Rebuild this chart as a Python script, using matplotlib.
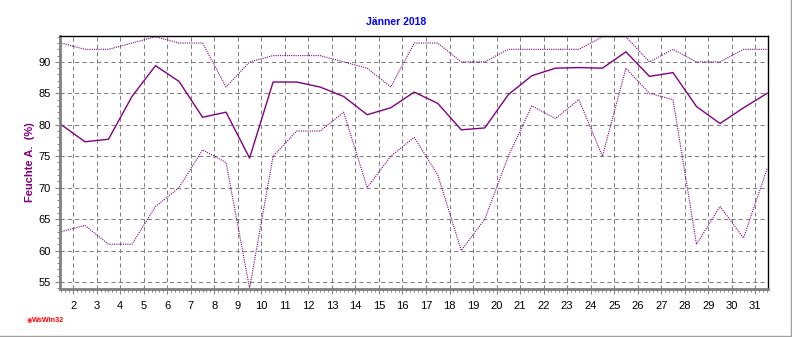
import numpy as np
import matplotlib
matplotlib.use("Agg")
import matplotlib.pyplot as plt
from matplotlib.ticker import MultipleLocator
from matplotlib.lines import Line2D

plt.rcParams['font.family'] = ['Liberation Sans', 'DejaVu Sans']

#%% Daten: relative Feuchte, Jänner 2018
tage = np.arange(1, 32) + 0.5

feuchte_mittel = [80.0, 77.3, 77.7, 84.5, 89.4, 86.9, 81.2, 82.0, 74.7, 86.8,
                  86.8, 86.0, 84.5, 81.6, 82.7, 85.2, 83.4, 79.2, 79.5, 84.8,
                  87.8, 89.0, 89.1, 89.0, 91.6, 87.7, 88.3, 82.9, 80.2, 82.7,
                  85.0]
feuchte_max = [93, 92, 92, 93, 94, 93, 93, 86, 90, 91,
               91, 91, 90, 89, 86, 93, 93, 90, 90, 92,
               92, 92, 92, 94, 94, 90, 92, 90, 90, 92,
               92]
feuchte_min = [63, 64, 61, 61, 67, 70, 76, 74, 54, 75,
               79, 79, 82, 70, 75, 78, 72, 60, 65, 75,
               83, 81, 84, 75, 89, 85, 84, 61, 67, 62,
               73]

x_ticks = list(range(2, 32))
y_ticks = [55, 60, 65, 70, 75, 80, 85, 90]

lila = '#800080'

#%% Plot
fig = plt.figure(figsize=(7.92, 3.37), dpi=100)
ax = fig.add_axes([60/792, 1-289/337, 708/792, 253/337])

ax.plot(tage, feuchte_max, color=lila, lw=0.8, linestyle=(0, (1, 1)))
ax.plot(tage, feuchte_min, color=lila, lw=0.8, linestyle=(0, (1, 1)))
ax.plot(tage, feuchte_mittel, color=lila, lw=1.0)

ax.set_xlim(1.44, 31.54)
ax.set_ylim(53.88, 94.12)

ax.set_xticks(x_ticks)
ax.set_yticks(y_ticks)
ax.xaxis.set_minor_locator(MultipleLocator(1/6))
ax.yaxis.set_minor_locator(MultipleLocator(1))
ax.tick_params(which='both', direction='out', color='#808080', labelsize=8)
ax.tick_params(which='major', length=3.5, width=0.8)
ax.tick_params(axis='x', which='major', pad=5)
ax.tick_params(axis='y', which='major', pad=3)
ax.tick_params(which='minor', length=2, width=0.7)

ax.grid(which='major', color='#808080', linestyle=(0, (4, 3)), linewidth=0.75)

for s in ['left', 'bottom']:
    ax.spines[s].set_color('#808080')
    ax.spines[s].set_linewidth(2)
for s in ['top', 'right']:
    ax.spines[s].set_color('black')
    ax.spines[s].set_linewidth(1)

ax.set_ylabel('Feuchte A.  (%)', color=lila, fontsize=8, fontweight='bold')
ax.yaxis.set_label_coords(-25/708, 0.5)
fig.text(0.5, 1-22/337, 'Jänner 2018', color='#0000ff', fontsize=7.5,
         fontweight='bold', ha='center', va='center')

fig.text(27/792, 1-320/337, '\u25c9', color='red', fontsize=4.5,
         ha='left', va='center', family='DejaVu Sans')
fig.text(32/792, 1-320/337, 'WsWin32', color='red', fontsize=5.2,
         fontweight='bold', ha='left', va='center')

# Fensterrahmen
fig.add_artist(Line2D([0, 790.5/792], [1-336/337, 1-336/337],
                      transform=fig.transFigure, color='#a0a0a0', lw=1))
fig.add_artist(Line2D([790.5/792, 790.5/792], [1-336/337, 1],
                      transform=fig.transFigure, color='#a0a0a0', lw=1))

fig.savefig('out.png', dpi=100)
